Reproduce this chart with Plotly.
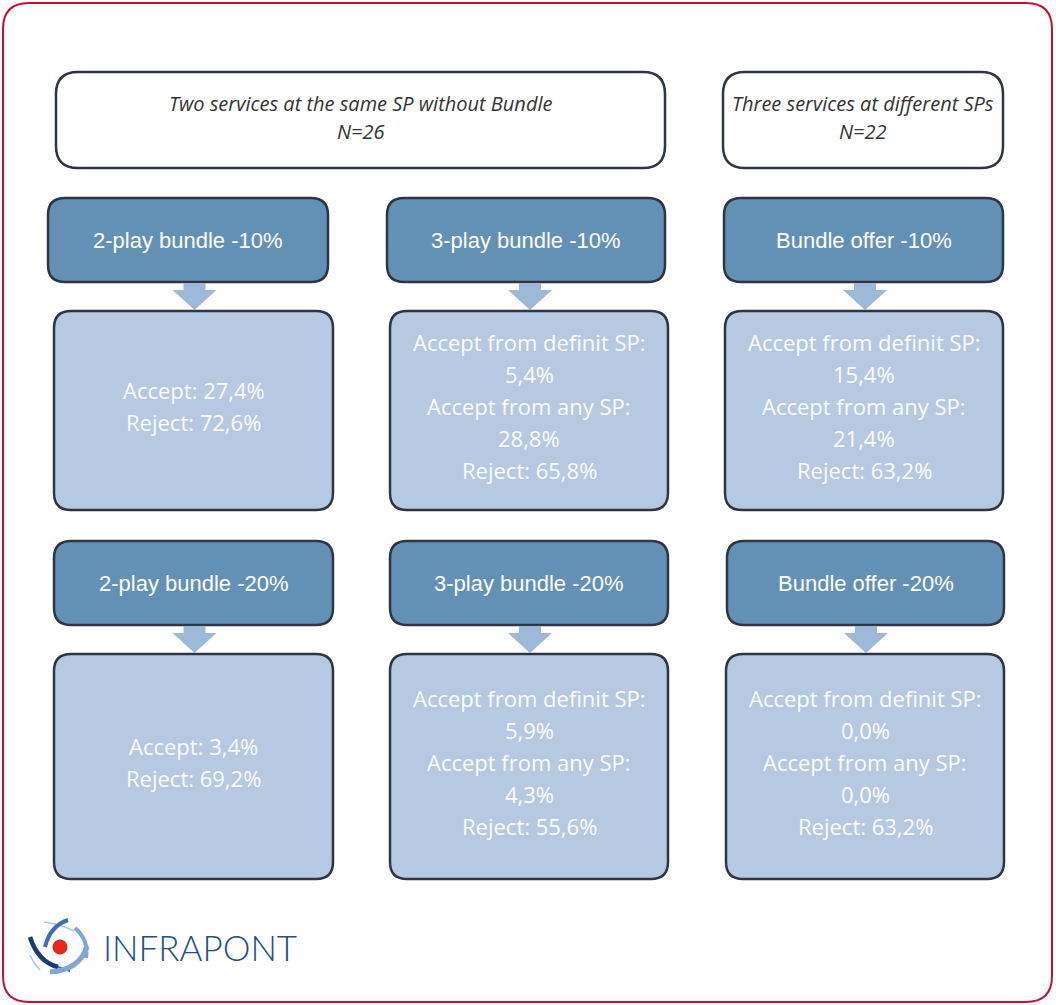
import plotly.graph_objects as go

# ---------------- data ----------------
header_titles = ["Two services at the same SP without Bundle", "Three services at different SPs"]
header_n = ["N=26", "N=22"]

offers_row1 = ["2-play bundle -10%", "3-play bundle -10%", "Bundle offer -10%"]
offers_row2 = ["2-play bundle -20%", "3-play bundle -20%", "Bundle offer -20%"]

results_row1 = [
    ["Accept: 27,4%", "Reject: 72,6%"],
    ["Accept from definit SP:", "5,4%", "Accept from any SP:", "28,8%", "Reject: 65,8%"],
    ["Accept from definit SP:", "15,4%", "Accept from any SP:", "21,4%", "Reject: 63,2%"],
]
results_row2 = [
    ["Accept: 3,4%", "Reject: 69,2%"],
    ["Accept from definit SP:", "5,9%", "Accept from any SP:", "4,3%", "Reject: 55,6%"],
    ["Accept from definit SP:", "0,0%", "Accept from any SP:", "0,0%", "Reject: 63,2%"],
]
brand = "INFRAPONT"

# ---------------- styles ----------------
W, H = 1056, 1005
DARK = "#6391b6"
LIGHT = "#b6c9e2"
ARROW = "#9db9d8"
EDGE = "#2f3542"
RED = "#c8102e"

shapes = []
annotations = []


def rrect(x0, y0, x1, y1, r, fill, line_color, lw):
    p = (f"M {x0+r},{y0} L {x1-r},{y0} Q {x1},{y0} {x1},{y0+r} "
         f"L {x1},{y1-r} Q {x1},{y1} {x1-r},{y1} "
         f"L {x0+r},{y1} Q {x0},{y1} {x0},{y1-r} "
         f"L {x0},{y0+r} Q {x0},{y0} {x0+r},{y0} Z")
    shapes.append(dict(type="path", path=p, xref="x", yref="y",
                       fillcolor=fill, line=dict(color=line_color, width=lw), layer="below"))


def text(x, y, s, size, color, family, style="normal", weight="normal"):
    annotations.append(dict(x=x, y=y, xref="x", yref="y", text=s, showarrow=False,
                            xanchor="center", yanchor="middle",
                            font=dict(size=size, color=color, family=family,
                                      style=style, weight=weight)))


def arrow(cx, y0, y1):
    sw, hw, sh = 11, 22, 7
    p = (f"M {cx-sw},{y0} L {cx+sw},{y0} L {cx+sw},{y0+sh} L {cx+hw},{y0+sh} "
         f"L {cx},{y1} L {cx-hw},{y0+sh} L {cx-sw},{y0+sh} Z")
    shapes.append(dict(type="path", path=p, xref="x", yref="y",
                       fillcolor=ARROW, line=dict(width=0), layer="below"))


# outer frame
rrect(3, 3, 1052, 1002, 26, "white", RED, 2)

# headers
header_x = [(56, 665), (723, 1003)]
for (x0, x1), t, n in zip(header_x, header_titles, header_n):
    rrect(x0, 72, x1, 168, 22, "white", EDGE, 2.5)
    cx = (x0 + x1) / 2
    text(cx, 103, t, 20, "#333333", "Open Sans", style="italic")
    text(cx, 131, n, 20, "#333333", "Open Sans", style="italic")

SANS = "Liberation Sans, Arial"
BODY = "Open Sans"

rows = [
    dict(dark=[(48, 328), (387, 665), (724, 1003)], dy=(198, 282),
         light=[(54, 333), (390, 668), (725, 1003)], ly=(311, 510),
         offers=offers_row1, results=results_row1),
    dict(dark=[(54, 333), (390, 668), (727, 1004)], dy=(541, 625),
         light=[(54, 333), (390, 668), (726, 1004)], ly=(654, 879),
         offers=offers_row2, results=results_row2),
]

LINE = 32
for row in rows:
    dy0, dy1 = row["dy"]
    ly0, ly1 = row["ly"]
    for (dx0, dx1), (lx0, lx1), off, res in zip(row["dark"], row["light"], row["offers"], row["results"]):
        rrect(dx0, dy0, dx1, dy1, 17, DARK, EDGE, 2.5)
        text((dx0 + dx1) / 2, (dy0 + dy1) / 2, off, 22, "white", SANS)
        lcx = (lx0 + lx1) / 2
        arrow(lcx + 1, dy1 + 1, ly0 - 1)
        rrect(lx0, ly0, lx1, ly1, 17, LIGHT, EDGE, 2.5)
        mid = (ly0 + ly1) / 2 - 5
        n = len(res)
        for i, s in enumerate(res):
            text(lcx, mid + (i - (n - 1) / 2) * LINE, s, 22, "#fbfcfe", BODY)

# logo icon
def curve(p, color, w):
    shapes.append(dict(type="path", path=p, xref="x", yref="y",
                       line=dict(color=color, width=w), layer="above"))

curve("M 44,922 Q 60,924 74,931", "#a9c6e6", 1.5)
curve("M 68,920 Q 50,926 45,947", "#3d70b2", 4)
curve("M 30,937 Q 38,962 58,967", "#1a3b6e", 4.5)
curve("M 58,967 Q 64,969 70,971", "#3d5f92", 2)
curve("M 75,928 Q 89,940 86,958", "#7fa7d6", 4)
curve("M 50,972 Q 80,970 87,946", "#7fa7d6", 5)
curve("M 30,955 Q 34,964 40,970", "#a9c6e6", 1.5)
shapes.append(dict(type="circle", xref="x", yref="y", x0=53, y0=940, x1=67, y1=954,
                   fillcolor="#e8261b", line=dict(color="#d41e14", width=1), layer="above"))

annotations.append(dict(x=101, y=947, xref="x", yref="y", text=brand, showarrow=False,
                        xanchor="left", yanchor="middle",
                        font=dict(size=35, color="#1d4f86", family="Lato", weight=300)))

fig = go.Figure()
fig.update_layout(
    width=W, height=H,
    margin=dict(l=0, r=0, t=0, b=0),
    paper_bgcolor="white", plot_bgcolor="white",
    xaxis=dict(range=[0, W], visible=False, fixedrange=True),
    yaxis=dict(range=[H, 0], visible=False, fixedrange=True),
    shapes=shapes, annotations=annotations, showlegend=False,
)
fig.write_html("out.html", post_script="document.body.style.margin='0';",
               config={"displayModeBar": False})
